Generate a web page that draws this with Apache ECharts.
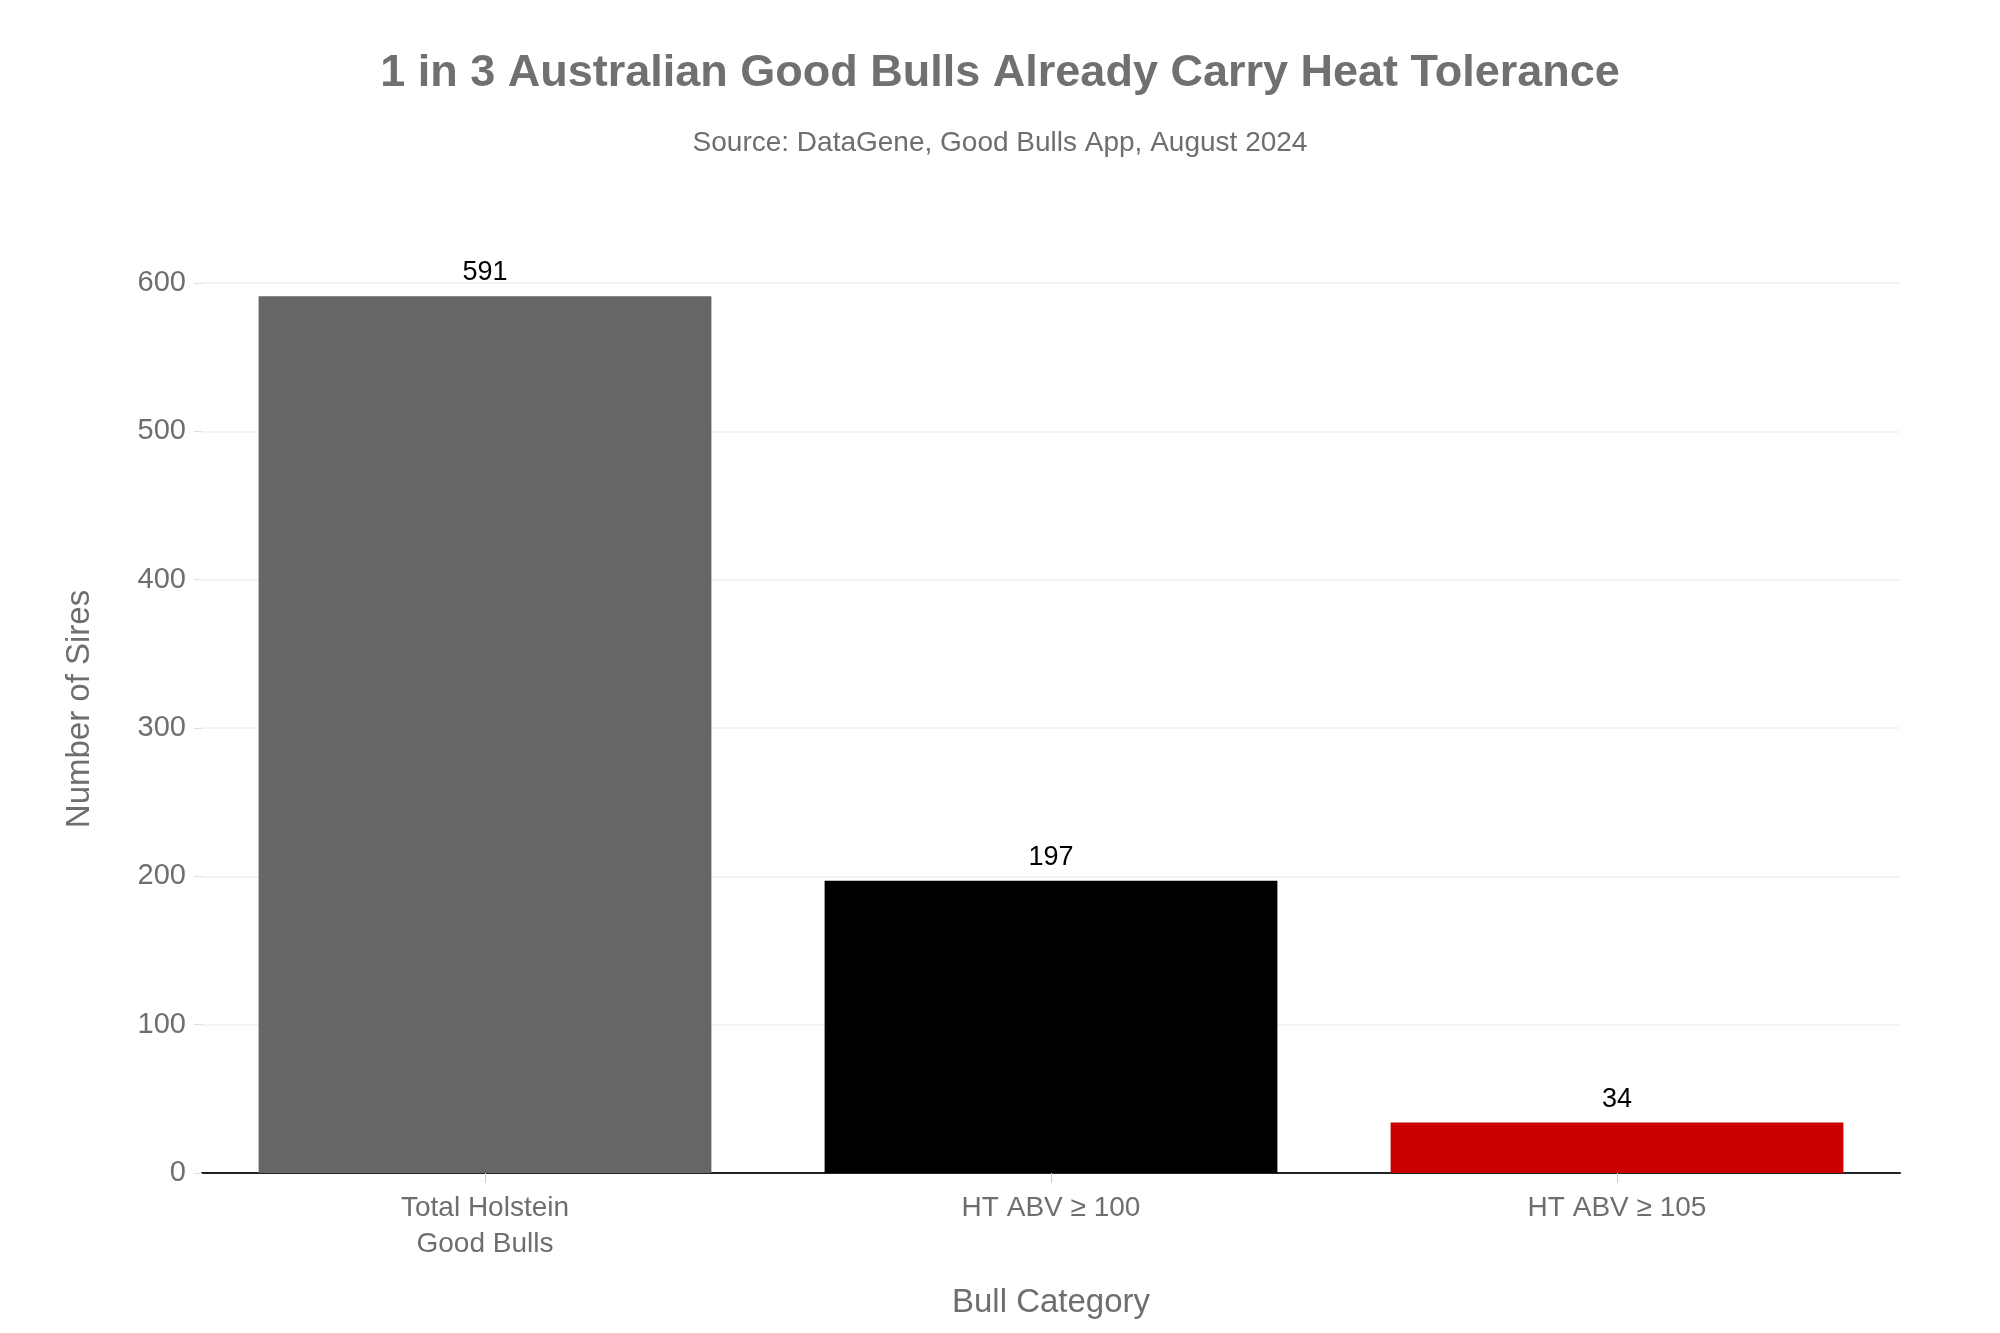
<!DOCTYPE html>
<html>
<head>
<meta charset="utf-8">
<script src="https://cdn.jsdelivr.net/npm/echarts@6/dist/echarts.min.js"></script>
<style>
html,body{margin:0;padding:0;background:#fff;}
#c{width:2000px;height:1333px;}
</style>
</head>
<body>
<div id="c"></div>
<script>
const categories = ['Total Holstein\nGood Bulls', 'HT ABV ≥ 100', 'HT ABV ≥ 105'];
const sires = [591, 197, 34];
const barColors = ['#666666', '#000000', '#cc0000'];
const yTicks = { min: 0, max: 600, interval: 100 };

const FONT = 'Liberation Sans, Arial, sans-serif';
const chart = echarts.init(document.getElementById('c'), null, { renderer: 'canvas' });
chart.setOption({
  backgroundColor: '#ffffff',
  textStyle: { fontFamily: FONT },
  title: [
    {
      text: '1 in 3 Australian Good Bulls Already Carry Heat Tolerance',
      left: 'center', top: 46,
      textStyle: { fontFamily: FONT, fontSize: 45, fontWeight: 'bold', color: '#707070' }
    },
    {
      text: 'Source: DataGene, Good Bulls App, August 2024',
      left: 'center', top: 124,
      textStyle: { fontFamily: FONT, fontSize: 28, fontWeight: 'normal', color: '#6e6e6e' }
    }
  ],
  grid: { left: 202, right: 100, top: 283, bottom: 160, containLabel: false },
  xAxis: {
    type: 'category',
    data: categories,
    name: 'Bull Category',
    nameLocation: 'middle',
    nameGap: 113,
    nameTextStyle: { fontSize: 33, color: '#6e6e6e', fontFamily: FONT },
    axisLine: { show: true, lineStyle: { color: '#222222', width: 2 } },
    axisTick: { show: true, alignWithLabel: true, length: 10, lineStyle: { color: '#cccccc', width: 1 } },
    axisLabel: { fontSize: 28, color: '#6e6e6e', margin: 17, lineHeight: 36, fontFamily: FONT },
    splitLine: { show: false }
  },
  yAxis: {
    type: 'value',
    min: yTicks.min, max: yTicks.max, interval: yTicks.interval,
    name: 'Number of Sires',
    nameLocation: 'middle',
    nameGap: 106,
    nameRotate: 90,
    nameTextStyle: { fontSize: 33, color: '#6e6e6e', fontFamily: FONT, padding: [0, 0, 0, 38] },
    axisLine: { show: false },
    axisTick: { show: true, length: 8, lineStyle: { color: '#dddddd', width: 1 } },
    axisLabel: { fontSize: 29, color: '#6e6e6e', margin: 16, fontFamily: FONT },
    splitLine: { show: true, lineStyle: { color: '#f0f0f0', width: 1.5 } }
  },
  series: [{
    type: 'bar',
    barCategoryGap: '20%',
    data: sires.map((v, i) => ({ value: v, itemStyle: { color: barColors[i] } })),
    label: { show: true, position: 'top', distance: 10, fontSize: 27, color: '#000000', fontFamily: FONT },
    animation: false
  }],
  animation: false
});
</script>
</body>
</html>
